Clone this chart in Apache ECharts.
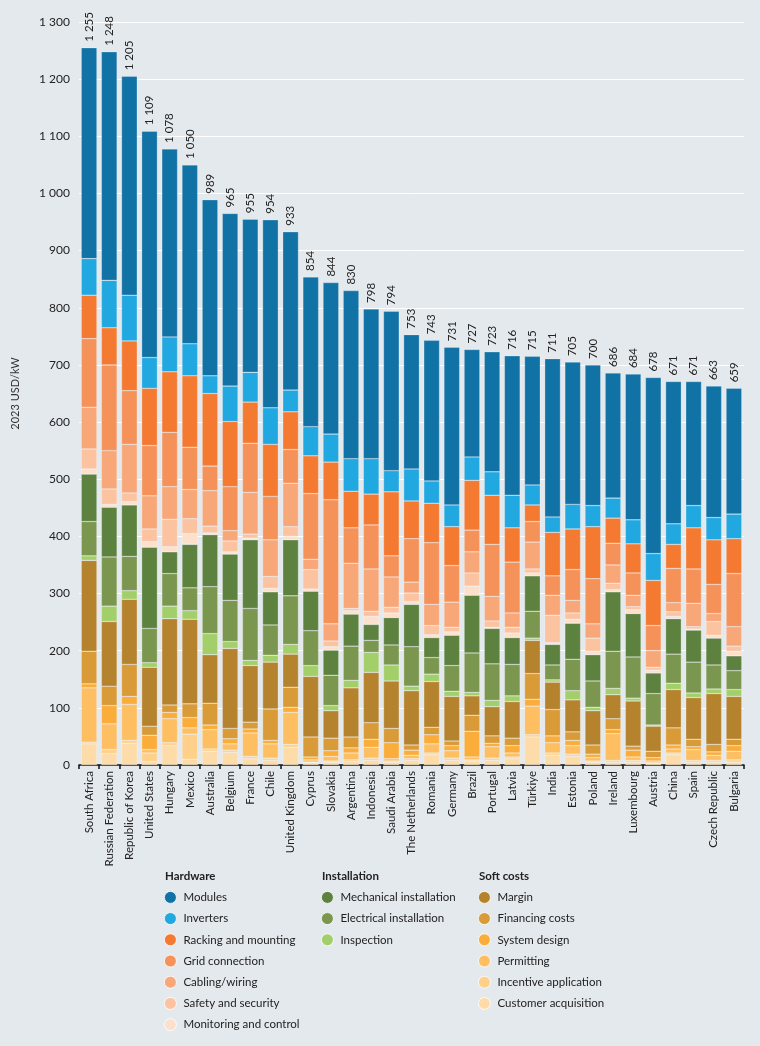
<!DOCTYPE html>
<html>
<head>
<meta charset="utf-8">
<script src="https://cdn.jsdelivr.net/npm/echarts@6/dist/echarts.min.js"></script>
<style>
  html, body { margin: 0; padding: 0; background: #e4e9ee; }
  #chart { width: 760px; height: 1046px; }
</style>
</head>
<body>
<div id="chart"></div>
<script>
// categories and values (2023 USD/kW)
const countries = ['South Africa', 'Russian Federation', 'Republic of Korea', 'United States', 'Hungary', 'Mexico',
  'Australia', 'Belgium', 'France', 'Chile', 'United Kingdom', 'Cyprus', 'Slovakia', 'Argentina', 'Indonesia',
  'Saudi Arabia', 'The Netherlands', 'Romania', 'Germany', 'Brazil', 'Portugal', 'Latvia', 'Türkiye', 'India',
  'Estonia', 'Poland', 'Ireland', 'Luxembourg', 'Austria', 'China', 'Spain', 'Czech Republic', 'Bulgaria'];
const totals = [1255, 1248, 1205, 1109, 1078, 1050, 989, 965, 955, 954, 933, 854, 844, 830, 798, 794, 753, 743,
  731, 727, 723, 716, 715, 711, 705, 700, 686, 684, 678, 671, 671, 663, 659];

// hardware
const modules    = [369, 400, 383, 396, 329, 313, 308, 302, 268, 329, 277, 262, 265, 294, 262, 279, 235, 246, 276, 188, 210, 244, 225, 277, 249, 246, 219, 255, 308, 249, 217, 230, 220];
const inverters  = [64, 83, 80, 54, 61, 56, 31, 62, 52, 64, 38, 51, 49, 57, 62, 37, 56, 39, 38, 41, 41, 57, 35, 27, 43, 37, 35, 42, 47, 36, 39, 39, 43];
const racking    = [76, 65, 87, 100, 106, 125, 127, 114, 72, 91, 66, 66, 66, 64, 54, 112, 66, 69, 68, 87, 86, 60, 29, 76, 71, 91, 44, 51, 79, 42, 72, 78, 61];
const grid       = [120, 150, 94, 88, 95, 74, 43, 77, 86, 76, 59, 115, 217, 62, 77, 37, 76, 108, 64, 38, 91, 89, 36, 34, 54, 79, 38, 39, 44, 60, 60, 51, 93];
const cabling    = [73, 67, 85, 58, 57, 51, 62, 18, 73, 64, 76, 18, 30, 79, 74, 53, 19, 37, 44, 37, 43, 25, 47, 35, 22, 25, 32, 20, 29, 16, 41, 14, 34];
const safety     = [35, 27, 15, 22, 48, 26, 12, 19, 7, 21, 17, 34, 10, 4, 9, 10, 15, 16, 8, 23, 11, 10, 7, 48, 11, 23, 11, 5, 5, 8, 4, 24, 9];
const monitoring = [9, 5, 6, 10, 9, 19, 3, 4, 3, 6, 6, 4, 6, 6, 14, 8, 5, 5, 6, 16, 2, 8, 5, 3, 7, 6, 4, 7, 5, 4, 2, 5, 8];
// installation
const mechanical = [83, 87, 90, 142, 38, 76, 91, 81, 120, 58, 98, 69, 44, 56, 28, 48, 74, 35, 53, 101, 62, 47, 62, 36, 63, 46, 104, 76, 36, 62, 56, 47, 26];
const electrical = [60, 86, 60, 60, 57, 40, 82, 72, 91, 53, 85, 61, 53, 60, 21, 35, 69, 29, 45, 69, 64, 55, 47, 26, 55, 46, 65, 72, 55, 51, 54, 42, 33];
const inspection = [8, 27, 15, 8, 22, 15, 37, 12, 9, 12, 17, 19, 9, 13, 35, 28, 8, 13, 9, 6, 11, 10, 4, 4, 16, 6, 11, 5, 2, 11, 8, 8, 12];
// soft costs
const margin     = [159, 113, 114, 103, 151, 148, 85, 140, 99, 82, 58, 106, 48, 86, 88, 83, 95, 80, 78, 34, 51, 64, 58, 48, 56, 60, 42, 79, 44, 67, 73, 89, 75];
const financing  = [57, 34, 56, 16, 13, 24, 38, 18, 12, 55, 35, 35, 22, 19, 29, 25, 9, 13, 8, 28, 13, 13, 45, 46, 15, 16, 19, 7, 11, 30, 13, 13, 11];
const sysDesign  = [7, 32, 14, 25, 11, 18, 8, 9, 7, 6, 9, 5, 10, 9, 14, 28, 9, 16, 9, 45, 6, 13, 12, 12, 9, 6, 7, 12, 6, 7, 5, 6, 10];
const permitting = [95, 45, 63, 6, 42, 11, 34, 11, 41, 25, 56, 4, 8, 12, 19, 4, 6, 16, 13, 5, 20, 7, 50, 18, 15, 6, 47, 6, 3, 7, 19, 9, 15];
const incentive  = [3, 7, 5, 15, 5, 44, 4, 4, 4, 4, 5, 1, 2, 3, 4, 2, 3, 3, 4, 2, 4, 3, 4, 4, 4, 2, 3, 3, 1, 3, 3, 3, 4];
const customer   = [37, 20, 38, 6, 34, 10, 24, 22, 11, 8, 31, 4, 5, 6, 8, 5, 8, 18, 8, 7, 8, 11, 49, 17, 15, 5, 5, 5, 3, 18, 5, 5, 5];

const yTicks = [0, 100, 200, 300, 400, 500, 600, 700, 800, 900, 1000, 1100, 1200, 1300];

const FONT = 'Lato';

// bottom to top
const layers = [
  ['Customer acquisition', customer, '#fedcaa'],
  ['Incentive application', incentive, '#fed08a'],
  ['Permitting', permitting, '#fdbf62'],
  ['System design', sysDesign, '#fbad3b'],
  ['Financing costs', financing, '#d99a38'],
  ['Margin', margin, '#b5832e'],
  ['Inspection', inspection, '#a3cf6a'],
  ['Electrical installation', electrical, '#7b974f'],
  ['Mechanical installation', mechanical, '#5d8240'],
  ['Monitoring and control', monitoring, '#fde0cc'],
  ['Safety and security', safety, '#fbc3a0'],
  ['Cabling/wiring', cabling, '#f8a779'],
  ['Grid connection', grid, '#f5925a'],
  ['Racking and mounting', racking, '#f47a32'],
  ['Inverters', inverters, '#22a8e0'],
  ['Modules', modules, '#1172a6']
];

function fmt(v) {
  return v >= 1000 ? Math.floor(v / 1000) + ' ' + String(v % 1000).padStart(3, '0') : String(v);
}

const series = layers.map(function (l, i) {
  const s = {
    name: l[0],
    type: 'bar',
    stack: 'cost',
    data: l[1],
    barCategoryGap: '22%',
    itemStyle: { color: l[2], borderColor: 'rgba(255,255,255,0.5)', borderWidth: 0.5 },
    emphasis: { disabled: true }
  };
  if (i === layers.length - 1) {
    s.label = {
      show: true,
      position: 'top',
      rotate: 90,
      align: 'left',
      verticalAlign: 'middle',
      distance: 6,
      fontFamily: FONT,
      fontSize: 11.5,
      color: '#222',
      formatter: function (p) { return fmt(totals[p.dataIndex]); }
    };
  }
  return s;
});

function legendBlock(left, names) {
  return {
    orient: 'vertical',
    left: left,
    top: 891,
    height: 160,
    padding: 0,
    icon: 'circle',
    itemWidth: 12,
    itemHeight: 12,
    itemGap: 8.4,
    selectedMode: false,
    itemStyle: { borderColor: '#ffffff', borderWidth: 0.8 },
    textStyle: { fontFamily: FONT, fontSize: 11.5, lineHeight: 12, color: '#222', padding: [0, 0, 0, 2] },
    data: names
  };
}

function heading(x, text) {
  return {
    type: 'text', left: x, top: 870,
    style: { text: text, fontFamily: FONT, fontSize: 11.5, fontWeight: 'bold', fill: '#222' }
  };
}

const chart = echarts.init(document.getElementById('chart'));
chart.setOption({
  backgroundColor: '#e4e9ee',
  animation: false,
  grid: { left: 79, right: 16, top: 22, bottom: 281 },
  xAxis: {
    type: 'category',
    data: countries,
    axisLine: { lineStyle: { color: '#111', width: 1.5 } },
    axisTick: { show: true, interval: 0, length: 4, lineStyle: { color: '#111', width: 1.5 } },
    axisLabel: { interval: 0, rotate: 90, margin: 6, fontFamily: FONT, fontSize: 11.5, color: '#222' }
  },
  yAxis: {
    type: 'value',
    min: yTicks[0],
    max: yTicks[yTicks.length - 1],
    interval: 100,
    name: '2023 USD/kW',
    nameLocation: 'middle',
    nameGap: 58,
    nameTextStyle: { fontFamily: FONT, fontSize: 11, color: '#333' },
    axisLine: { show: false },
    axisTick: { show: false },
    axisLabel: { margin: 9, fontFamily: FONT, fontSize: 12, color: '#222', formatter: fmt },
    splitLine: { lineStyle: { color: '#ffffff', width: 1 } }
  },
  legend: [
    legendBlock(164, ['Modules', 'Inverters', 'Racking and mounting', 'Grid connection', 'Cabling/wiring',
      'Safety and security', 'Monitoring and control']),
    legendBlock(321, ['Mechanical installation', 'Electrical installation', 'Inspection']),
    legendBlock(478, ['Margin', 'Financing costs', 'System design', 'Permitting', 'Incentive application',
      'Customer acquisition'])
  ],
  graphic: [
    heading(165, 'Hardware'),
    heading(322, 'Installation'),
    heading(479, 'Soft costs')
  ],
  series: series
});
</script>
</body>
</html>
